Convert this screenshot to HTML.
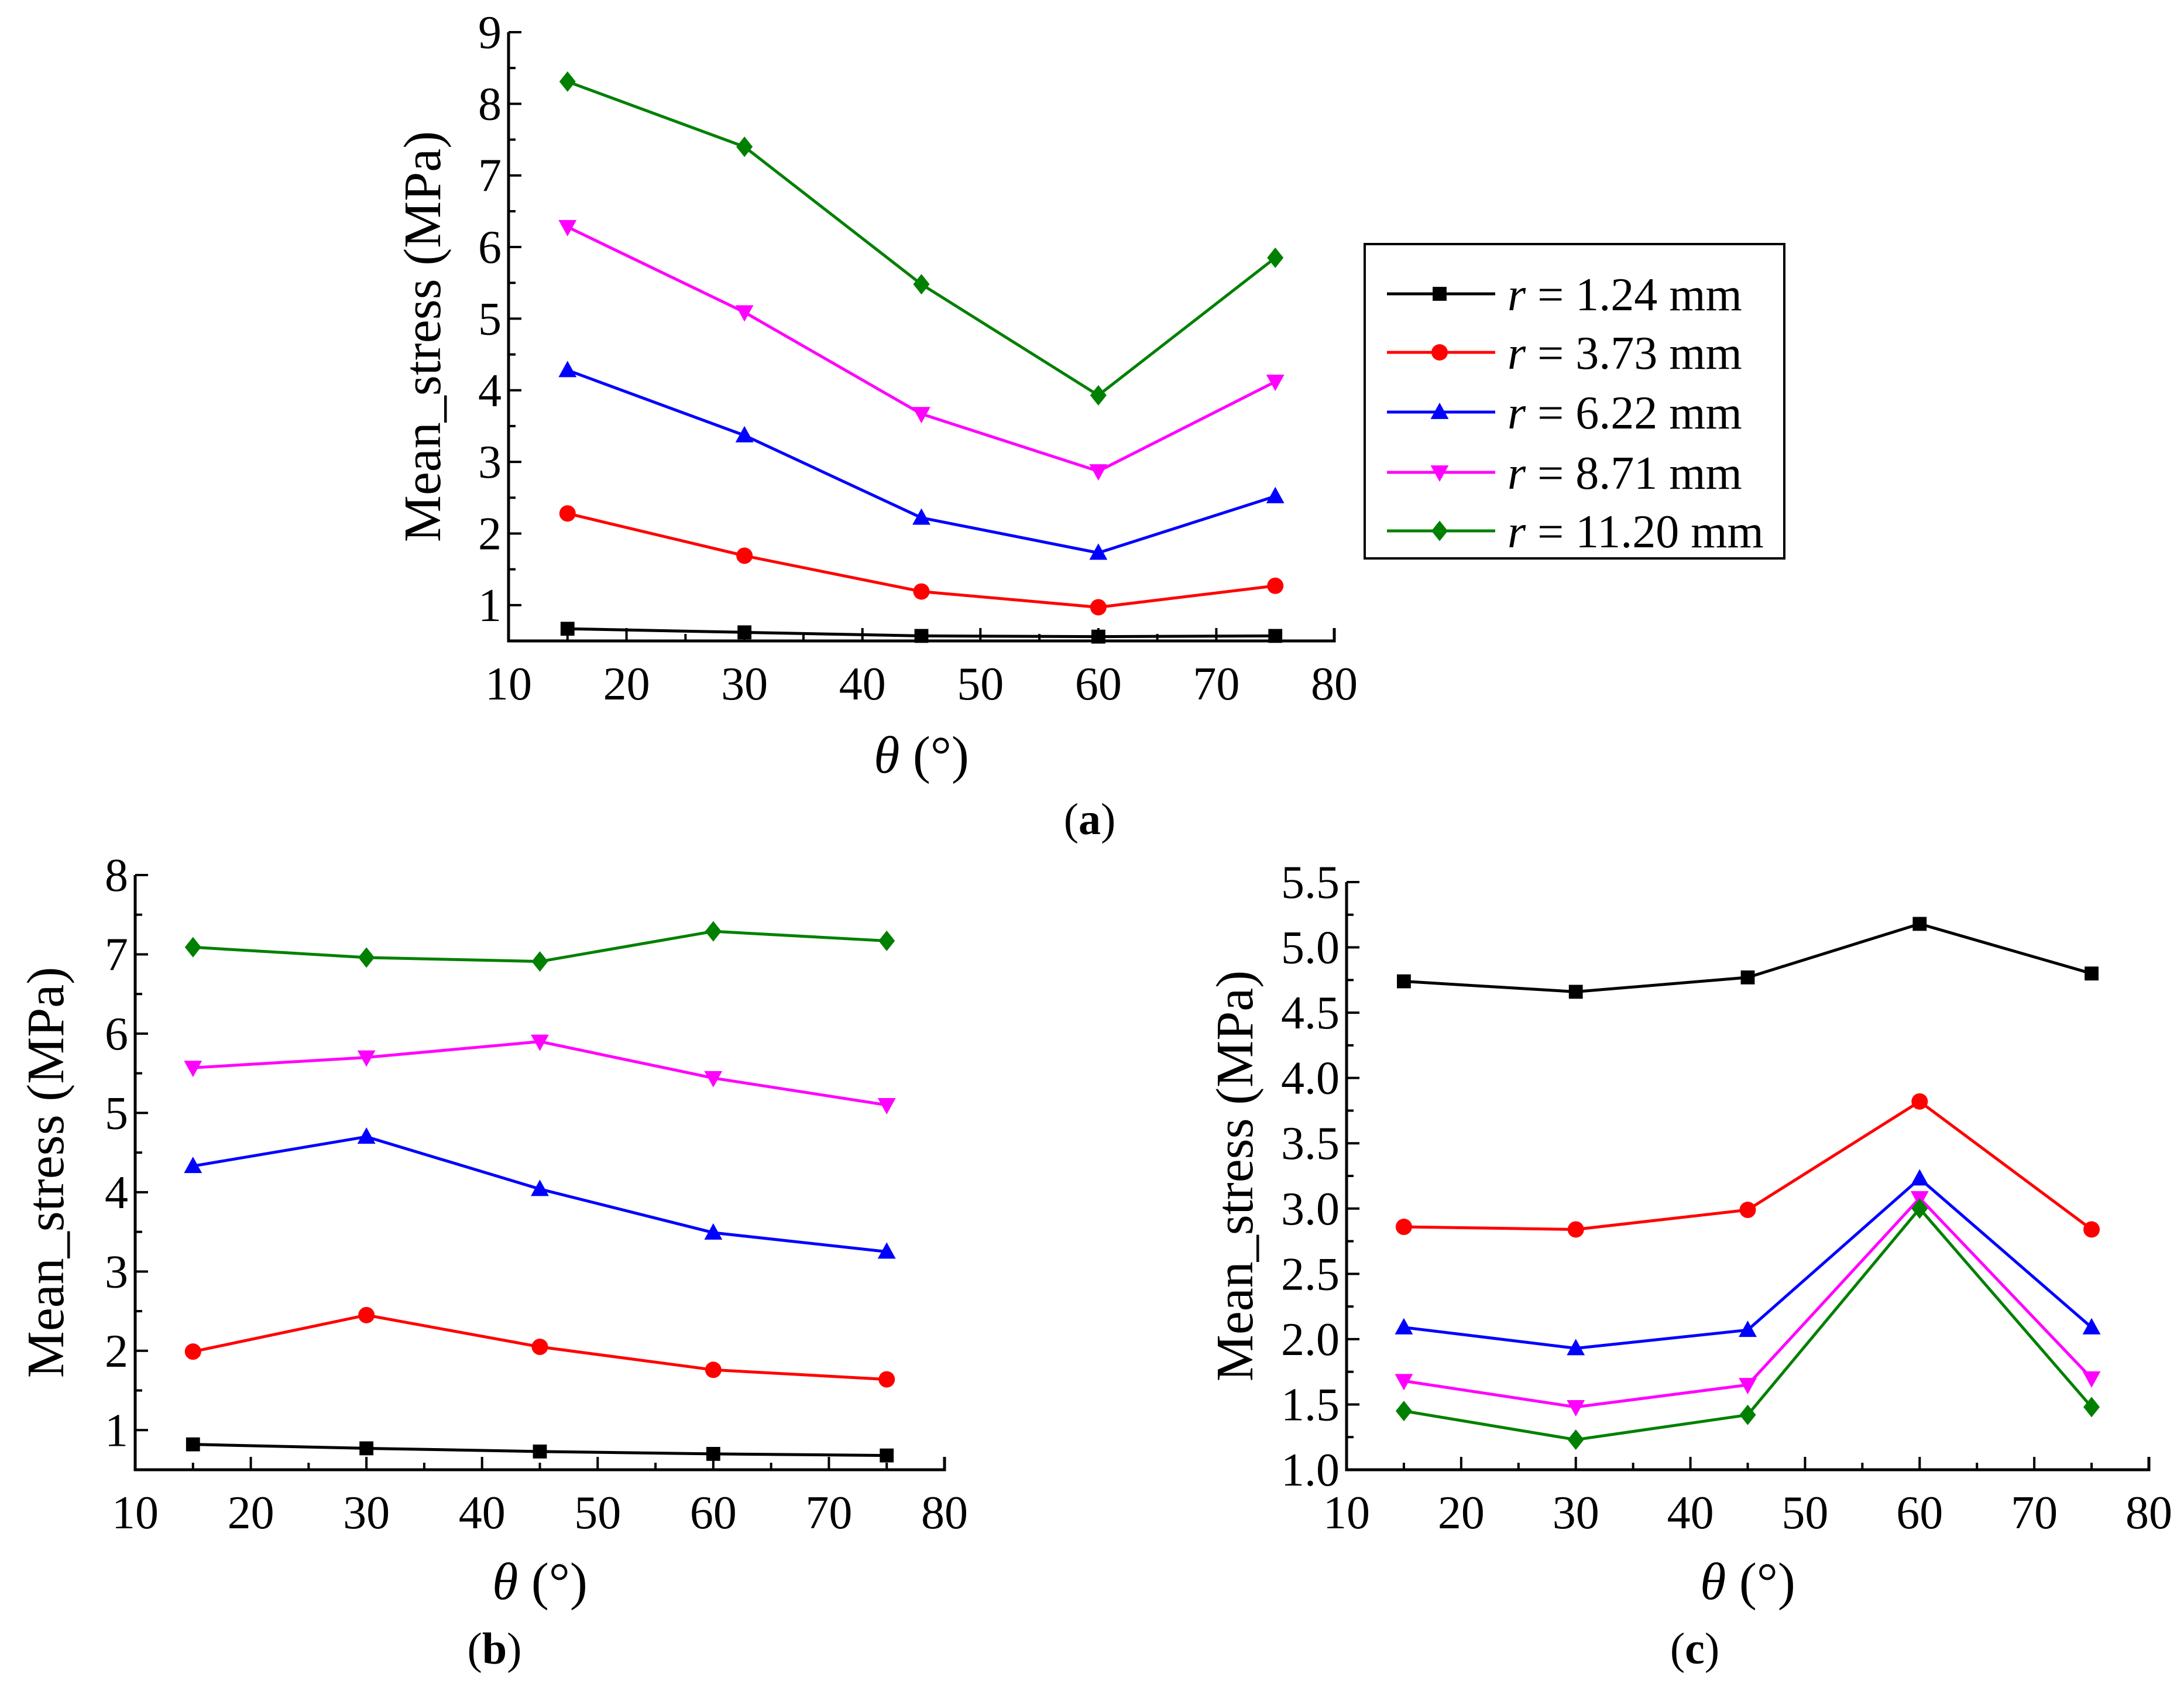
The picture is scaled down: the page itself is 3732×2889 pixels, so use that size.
<!DOCTYPE html>
<html><head><meta charset="utf-8">
<style>
html,body{margin:0;padding:0;background:#fff;}
svg, svg text{font-family:"Liberation Serif","Times New Roman",serif;}
</style></head>
<body>
<svg id="fig" width="3732" height="2884" viewBox="0 0 3732 2884" xmlns="http://www.w3.org/2000/svg" font-family="Liberation Serif, Times New Roman, serif">
<rect width="3732" height="2884" fill="#fff"/>
</svg>
<script>
const NS="http://www.w3.org/2000/svg";
const fig=document.getElementById('fig');
const thetas=[15,30,45,60,75];
const seriesNames=["r = 1.24 mm","r = 3.73 mm","r = 6.22 mm","r = 8.71 mm","r = 11.20 mm"];
const seriesColors=["#000000","#ff0000","#0000ff","#ff00ff","#008000"];
const seriesMarkers=["square","circle","up","down","diamond"];
const aBlack=[0.67,0.62,0.57,0.56,0.57];
const aRed=[2.28,1.69,1.19,0.97,1.27];
const aBlue=[4.28,3.37,2.22,1.73,2.52];
const aMagenta=[6.28,5.09,3.67,2.87,4.12];
const aGreen=[8.31,7.40,5.48,3.93,5.85];
const bBlack=[0.82,0.77,0.73,0.70,0.68];
const bRed=[1.99,2.45,2.05,1.76,1.64];
const bBlue=[4.33,4.70,4.04,3.49,3.25];
const bMagenta=[5.57,5.70,5.90,5.44,5.10];
const bGreen=[7.09,6.96,6.91,7.29,7.17];
const cBlack=[4.74,4.66,4.77,5.18,4.80];
const cRed=[2.86,2.84,2.99,3.82,2.84];
const cBlue=[2.09,1.93,2.07,3.23,2.09];
const cMagenta=[1.68,1.48,1.65,3.08,1.70];
const cGreen=[1.45,1.23,1.42,3.00,1.48];
const xTicks=[10,20,30,40,50,60,70,80];
const aYTicks=[1,2,3,4,5,6,7,8,9];
const bYTicks=[1,2,3,4,5,6,7,8];
const cYTicks=[1.0,1.5,2.0,2.5,3.0,3.5,4.0,4.5,5.0,5.5];
const FF="Liberation Serif, Times New Roman, serif";

function el(tag,attrs,parent){const e=document.createElementNS(NS,tag);for(const k in attrs)e.setAttribute(k,attrs[k]);if(tag==='text')e.setAttribute('font-family',FF);(parent||fig).appendChild(e);return e;}

function marker(g,type,x,y,color,s){
  let m;
  if(type==="square") m=el('rect',{x:x-s*0.85,y:y-s*0.85,width:s*1.7,height:s*1.7,fill:color},g);
  else if(type==="circle") m=el('circle',{cx:x,cy:y,r:s,fill:color},g);
  else if(type==="up") m=el('polygon',{points:`${x},${y-s*1.15} ${x-s*1.1},${y+s*0.85} ${x+s*1.1},${y+s*0.85}`,fill:color},g);
  else if(type==="down") m=el('polygon',{points:`${x},${y+s*1.15} ${x-s*1.1},${y-s*0.85} ${x+s*1.1},${y-s*0.85}`,fill:color},g);
  else m=el('polygon',{points:`${x},${y-s*1.25} ${x+s*1.0},${y} ${x},${y+s*1.25} ${x-s*1.0},${y}`,fill:color},g);
  
  
  return m;
}

function panel(id,L,R,T,B,ymin,ymax,yTicks,yMinor,dec,data,ylabX,xtitleY,capX,capY,capText){
  const g=el('g',{});
  
  
  const sx=v=>L+(v-10)/(80-10)*(R-L);
  const sy=v=>B-(v-ymin)/(ymax-ymin)*(B-T);
  const ax=el('path',{d:`M${L},${T} L${L},${B} L${R},${B} L${R},${B-22}`,fill:'none',stroke:'#000','stroke-width':5},g);
  
  
  for(let v=10;v<=80;v+=5){
    const maj=(v%10===0);
    el('line',{x1:sx(v),x2:sx(v),y1:B,y2:B-(maj?22:12),stroke:'#000','stroke-width':4},g);
  }
  xTicks.forEach(v=>{
    const t=el('text',{x:sx(v),y:B+100,'font-size':80,'text-anchor':'middle'},g);
    t.textContent=v;
    
    
  });
  for(let v=yTicks[0]-yMinor;v<=ymax+1e-6;v+=yMinor){
    if(v<ymin-1e-6) continue;
    const maj=yTicks.some(t=>Math.abs(t-v)<1e-6);
    el('line',{x1:L,x2:L+(maj?22:12),y1:sy(v),y2:sy(v),stroke:'#000','stroke-width':4},g);
  }
  yTicks.forEach(v=>{
    const t=el('text',{x:L-12,y:sy(v)+27,'font-size':80,'text-anchor':'end'},g);
    t.textContent=v.toFixed(dec);
    
    
  });
  data.forEach((vals,i)=>{
    const sg=el('g',{},g);
    
    
    const pts=vals.map((v,j)=>sx(thetas[j])+','+sy(v)).join(' ');
    el('polyline',{points:pts,fill:'none',stroke:seriesColors[i],'stroke-width':5,'stroke-linejoin':'round'},sg);
    vals.forEach((v,j)=>marker(sg,seriesMarkers[i],sx(thetas[j]),sy(v),seriesColors[i],14));
  });
  const yl=el('text',{x:ylabX,y:(T+B)/2,'font-size':90,'text-anchor':'middle',transform:`rotate(-90 ${ylabX} ${(T+B)/2})`},g);
  yl.textContent='Mean_stress (MPa)';
  
  
  const xl=el('text',{x:(L+R)/2,y:xtitleY,'font-size':90,'text-anchor':'middle'},g);
  xl.innerHTML='<tspan font-style="italic">θ</tspan> (°)';
  
  
  const cap=el('text',{x:capX,y:capY,'font-size':76,'text-anchor':'middle'},g);
  cap.innerHTML='(<tspan font-weight="bold">'+capText+'</tspan>)';
  
  
}

panel('a',869,2280,55,1095,0.5,9,aYTicks,0.5,0,[aBlack,aRed,aBlue,aMagenta,aGreen],752,1320,1862,1425,'a');
panel('b',231,1614,1495,2511,0.5,8,bYTicks,0.5,0,[bBlack,bRed,bBlue,bMagenta,bGreen],108,2732,845,2842,'b');
panel('c',2301,3672,1507,2511,1.0,5.5,cYTicks,0.25,1,[cBlack,cRed,cBlue,cMagenta,cGreen],2140,2732,2896,2842,'c');

const lg=el('g',{});


el('rect',{x:2332,y:417,width:717,height:537,fill:'#fff',stroke:'#000','stroke-width':4},lg);
const lgY=[502,602,704,807,907];
seriesNames.forEach((n,i)=>{
  const e=el('g',{},lg);
  
  
  el('line',{x1:2370,x2:2555,y1:lgY[i],y2:lgY[i],stroke:seriesColors[i],'stroke-width':5},e);
  marker(e,seriesMarkers[i],2460,lgY[i],seriesColors[i],14);
  const t=el('text',{x:2576,y:lgY[i]+28,'font-size':80},e);
  t.innerHTML='<tspan font-style="italic">r</tspan>'+n.slice(1);
});
</script>
</body></html>
